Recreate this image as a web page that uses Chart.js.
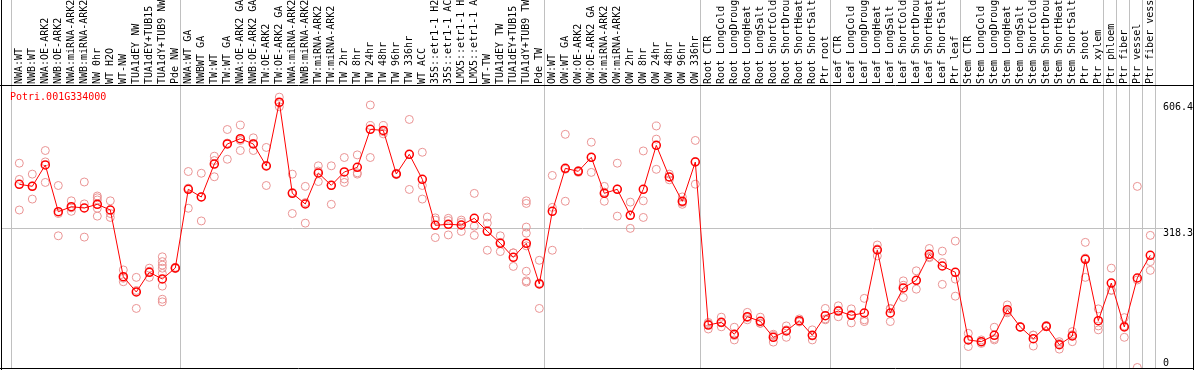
<!DOCTYPE html>
<html>
<head>
<meta charset="utf-8">
<script src="https://cdn.jsdelivr.net/npm/chart.js@4/dist/chart.umd.min.js"></script>
<style>
  html, body { margin: 0; padding: 0; background: #fff; }
  #wrap { width: 1194px; height: 370px; }
</style>
</head>
<body>
<div id="wrap"><canvas id="chart"></canvas></div>
<script>
const geneName = 'Potri.001G334000';

const labels = [
    'NWA:WT', 'NWB:WT', 'NWA:OE-ARK2', 'NWB:OE-ARK2', 'NWA:miRNA-ARK2', 'NWB:miRNA-ARK2',
    'NW 0hr', 'WT H2O', 'WT-NW', 'TUA1dEY NW', 'TUA1dEY+TUB15 NW', 'TUA1dY+TUB9 NW', 'Pde NW',
    'NWA:WT GA', 'NWBWT GA', 'TW:WT', 'TW:WT GA', 'NWA:OE-ARK2 GA', 'NWB:OE-ARK2 GA',
    'TW:OE-ARK2', 'TW:OE-ARK2 GA', 'NWA:miRNA-ARK2 GA', 'NWB:miRNA-ARK2 GA', 'TW:miRNA-ARK2',
    'TW:miRNA-ARK2 GA', 'TW 2hr', 'TW 8hr', 'TW 24hr', 'TW 48hr', 'TW 96hr', 'TW 336hr',
    'WT ACC', '35S::etr1-1 H2O', '35S::etr1-1 ACC', 'LMX5::etr1-1 H2O', 'LMX5::etr1-1 ACC',
    'WT-TW', 'TUA1dEY TW', 'TUA1dEY+TUB15 TW', 'TUA1dY+TUB9 TW', 'Pde TW',
    'OW:WT', 'OW:WT GA', 'OW:OE-ARK2', 'OW:OE-ARK2 GA', 'OW:miRNA-ARK2', 'OW:miRNA-ARK2 GA',
    'OW 2hr', 'OW 8hr', 'OW 24hr', 'OW 48hr', 'OW 96hr', 'OW 336hr',
    'Root CTR', 'Root LongCold', 'Root LongDrought', 'Root LongHeat', 'Root LongSalt',
    'Root ShortCold', 'Root ShortDrought', 'Root ShortHeat', 'Root ShortSalt', 'Ptr root',
    'Leaf CTR', 'Leaf LongCold', 'Leaf LongDrought', 'Leaf LongHeat', 'Leaf LongSalt',
    'Leaf ShortCold', 'Leaf ShortDrought', 'Leaf ShortHeat', 'Leaf ShortSalt', 'Ptr leaf',
    'Stem CTR', 'Stem LongCold', 'Stem LongDrought', 'Stem LongHeat', 'Stem LongSalt',
    'Stem ShortCold', 'Stem ShortDrought', 'Stem ShortHeat', 'Stem ShortSalt', 'Ptr shoot',
    'Ptr xylem', 'Ptr phloem', 'Ptr fiber', 'Ptr vessel', 'Ptr fiber vessel'
];

const means = [
    418.7, 414.2, 462.9, 356.1, 367.5, 364.6, 373.0, 360.0, 207.5, 172.6,
    217.6, 202.3, 227.4, 407.3, 389.7, 465.1, 510.9, 523.0, 510.9, 460.6,
    606.4, 398.2, 373.7, 444.6, 416.4, 446.9, 457.5, 544.3, 542.0, 442.3,
    487.3, 430.2, 325.0, 327.3, 325.7, 341.0, 311.3, 283.9, 251.9, 283.9,
    190.9, 357.0, 455.2, 448.4, 480.4, 398.2, 407.3, 347.8, 407.3, 507.8,
    435.4, 379.9, 469.7, 97.1, 103.3, 75.9, 116.1, 105.6, 69.0, 83.4,
    107.0, 73.6, 118.4, 129.1, 119.3, 124.6, 268.6, 124.6, 181.7, 199.3,
    258.7, 232.0, 217.6, 62.9, 59.0, 73.6, 132.1, 92.6, 65.8, 94.1,
    52.1, 72.0, 247.3, 107.0, 193.1, 92.6, 204.6, 256.5
];

// one list of replicate values per sample
const replicates = [
    [467, 430, 360], [442, 385, 415], [496, 470, 423], [416, 301, 352], [381, 357, 365],
    [424, 374, 298], [392, 388, 383, 364, 346], [381, 352, 343], [223, 196, 204], [206, 135, 176],
    [227, 206, 220], [253, 242, 234, 227, 215, 186, 156, 150], [229, 226, 227], [448, 364, 410], [444, 335, 390],
    [483, 473, 436], [544, 476, 513], [554, 496, 519], [525, 496, 512], [503, 416, 462],
    [618, 596, 605], [442, 352, 400], [414, 330, 377], [461, 425, 449], [461, 373, 416],
    [480, 431, 423], [486, 442, 445], [600, 553, 480], [553, 534, 539], [444, 441, 442],
    [567, 407, 487], [492, 416, 385], [342, 337, 297], [341, 336, 303], [337, 332, 311],
    [398, 323, 302], [344, 330, 268], [301, 265, 286], [262, 231, 262], [381, 375, 321, 307, 278, 220, 198, 195],
    [245, 135, 193], [439, 366, 268], [533, 380, 453], [449, 446, 450], [515, 446, 480],
    [414, 380, 401], [467, 346, 408], [378, 318, 348], [495, 381, 343], [552, 522, 453],
    [442, 429, 435], [390, 373, 377], [519, 419, 471], [88, 100, 103], [115, 93, 102],
    [92, 63, 73], [126, 109, 114], [115, 101, 101], [76, 58, 73], [95, 69, 86],
    [111, 106, 104], [86, 63, 72], [135, 109, 111], [141, 116, 131], [134, 102, 121],
    [158, 109, 105], [280, 255, 271], [135, 105, 134], [198, 160, 188], [221, 179, 199],
    [272, 253, 251], [266, 190, 240], [289, 202, 163], [78, 48, 63], [63, 55, 59],
    [92, 63, 66], [143, 125, 128], [92, 93, 93], [74, 49, 74], [96, 93, 93],
    [59, 42, 55], [82, 59, 75], [286, 206, 250], [134, 95, 86], [227, 177, 176],
    [114, 69, 95], [414, 0, 200], [302, 242, 222]
];

// first sample index of each group (gray separators)
const groupStarts = [0, 13, 41, 53, 63, 73, 84, 85, 86, 87, 88];
const yTicks = [0, 318.3, 606.4];

const monoFont = {family: '"DejaVu Sans Mono", monospace', size: 10, lineHeight: 1};

const framePlugin = {
    id: 'frame',
    afterDraw(chart) {
        const {ctx, chartArea, width, height} = chart;
        ctx.save();
        ctx.strokeStyle = '#000';
        ctx.lineWidth = 1;
        ctx.beginPath();
        ctx.moveTo(chartArea.left - 0.5, 0);
        ctx.lineTo(chartArea.left - 0.5, height);
        ctx.moveTo(width - 0.5, 0);
        ctx.lineTo(width - 0.5, height);
        ctx.moveTo(0, chartArea.top - 0.5);
        ctx.lineTo(width, chartArea.top - 0.5);
        ctx.moveTo(0, chartArea.bottom - 0.5);
        ctx.lineTo(width, chartArea.bottom - 0.5);
        ctx.stroke();
        ctx.fillStyle = 'rgb(255,0,0)';
        ctx.font = '10px "DejaVu Sans Mono"';
        ctx.textBaseline = 'top';
        ctx.fillText(geneName, chartArea.left + 8, chartArea.top + 6);
        ctx.restore();
    }
};

const chart = new Chart(document.getElementById('chart'), {
    type: 'line',
    data: {
        datasets: [{
            label: 'mean',
            data: means.map((v, i) => ({x: i, y: v})),
            borderColor: 'rgb(255,0,0)',
            borderWidth: 1,
            pointRadius: 4,
            pointBorderColor: 'rgb(255,0,0)',
            pointBorderWidth: 1.5,
            pointBackgroundColor: 'rgba(0,0,0,0)',
            tension: 0
        }, {
            type: 'scatter',
            label: 'replicates',
            data: replicates.flatMap((reps, i) => reps.map(v => ({x: i, y: v}))),
            showLine: false,
            pointRadius: 4,
            pointBorderColor: 'rgb(234,148,148)',
            pointBorderWidth: 1,
            pointBackgroundColor: 'rgba(0,0,0,0)'
        }]
    },
    options: {
        responsive: true,
        maintainAspectRatio: false,
        animation: false,
        layout: {autoPadding: false, padding: {left: 2, right: 0, top: 0, bottom: 1}},
        plugins: {legend: {display: false}, tooltip: {enabled: false}},
        scales: {
            x: {
                type: 'linear',
                position: 'top',
                min: -1.331,
                max: 87.977,
                afterBuildTicks: s => {
                    s.ticks = labels.concat(['']).map((l, k) => ({value: k - 0.638}));
                },
                afterFit: s => {
                    s.height = 86;
                    s.paddingLeft = 0;
                    s.paddingRight = 0;
                },
                grid: {
                    color: c => groupStarts.includes(c.index) ? '#c0c0c0' : 'rgba(0,0,0,0)',
                    tickLength: 86,
                    lineWidth: 1
                },
                border: {display: false},
                ticks: {
                    autoSkip: false,
                    minRotation: 90,
                    maxRotation: 90,
                    padding: -84,
                    labelOffset: 20,
                    color: '#000',
                    font: {family: '"DejaVu Sans Mono", monospace', size: 10},
                    callback: (v, i) => labels[i] || ''
                }
            },
            y: {
                type: 'linear',
                position: 'right',
                min: -3.43,
                max: 643.43,
                afterBuildTicks: s => {
                    s.ticks = yTicks.map(v => ({value: v}));
                },
                afterFit: s => {
                    s.width = 31;
                    s.paddingTop = 0;
                    s.paddingBottom = 0;
                },
                grid: {
                    color: c => c.tick && c.tick.value === 318.3 ? '#c0c0c0' : 'rgba(0,0,0,0)',
                    drawTicks: false
                },
                border: {display: false},
                ticks: {
                    padding: 0,
                    labelOffset: 5.5,
                    color: '#000',
                    font: monoFont,
                    callback: v => v === 0 ? ['0', '', ''] : String(v)
                }
            }
        }
    },
    plugins: [framePlugin]
});
</script>
</body>
</html>
